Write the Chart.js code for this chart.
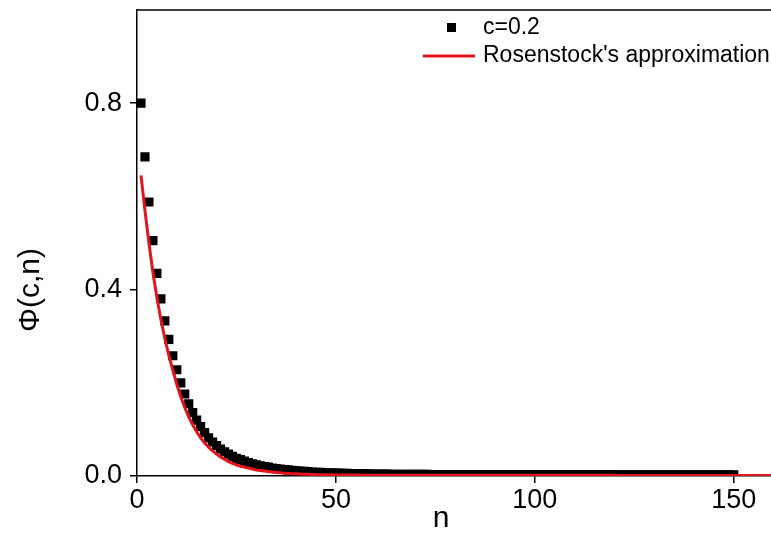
<!DOCTYPE html>
<html>
<head>
<meta charset="utf-8">
<script src="https://cdn.jsdelivr.net/npm/chart.js@4.4.1/dist/chart.umd.min.js"></script>
<style>
  html, body { margin: 0; padding: 0; background: #fff; overflow: hidden; }
  #wrap { width: 780px; height: 533px; }
</style>
</head>
<body>
<div id="wrap"><canvas id="chart" width="780" height="533"></canvas></div>
<script>
// Phi(c,n), c = 0.2, n = 1..150
const phiValues = [
  0.800, 0.685, 0.588, 0.505, 0.435, 0.380, 0.333, 0.293, 0.258, 0.228,
  0.200, 0.176, 0.155, 0.136, 0.120, 0.106, 0.093, 0.082, 0.073, 0.065,
  0.058, 0.052, 0.047, 0.042, 0.038, 0.035, 0.032, 0.029, 0.026, 0.024,
  0.022, 0.020, 0.019, 0.017, 0.016, 0.015, 0.014, 0.013, 0.012, 0.011,
  0.0105, 0.0098, 0.0092, 0.0086, 0.0081, 0.0077, 0.0073, 0.0070, 0.0067, 0.0064,
  0.0061, 0.0058, 0.0055, 0.0053, 0.0051, 0.0049, 0.0047, 0.0045, 0.0043, 0.0042,
  0.0041, 0.0040, 0.0039, 0.0038, 0.0037, 0.0036, 0.0035, 0.0035, 0.0034, 0.0034,
  0.0033, 0.0033, 0.0033, 0.0032, 0.0032, 0.0032, 0.0031, 0.0031, 0.0031, 0.0031,
  0.0030, 0.0030, 0.0030, 0.0030, 0.0030, 0.0030, 0.0030, 0.0030, 0.0030, 0.0030,
  0.0029, 0.0029, 0.0029, 0.0029, 0.0029, 0.0029, 0.0029, 0.0029, 0.0029, 0.0029,
  0.0028, 0.0028, 0.0028, 0.0028, 0.0028, 0.0028, 0.0028, 0.0028, 0.0028, 0.0028,
  0.0028, 0.0028, 0.0028, 0.0028, 0.0028, 0.0028, 0.0028, 0.0028, 0.0028, 0.0028,
  0.0027, 0.0027, 0.0027, 0.0027, 0.0027, 0.0027, 0.0027, 0.0027, 0.0027, 0.0027,
  0.0027, 0.0027, 0.0027, 0.0027, 0.0027, 0.0027, 0.0027, 0.0027, 0.0027, 0.0027,
  0.0026, 0.0026, 0.0026, 0.0026, 0.0026, 0.0026, 0.0026, 0.0026, 0.0026, 0.0026
];

// Rosenstock's approximation, n = 1..160
const rosenValues = [
  0.645, 0.570, 0.500, 0.437, 0.383, 0.336, 0.295, 0.259, 0.227, 0.197,
  0.170, 0.147, 0.127, 0.110, 0.095, 0.082, 0.071, 0.062, 0.054, 0.047,
  0.041, 0.036, 0.031, 0.027, 0.024, 0.021, 0.019, 0.017, 0.015, 0.013,
  0.0118, 0.0106, 0.0095, 0.0085, 0.0076, 0.0068, 0.0061, 0.0055, 0.0050, 0.0046,
  0.0042, 0.0039, 0.0036, 0.0033, 0.0031, 0.0029, 0.0027, 0.0025, 0.0024, 0.0023,
  0.0022, 0.0021, 0.0020, 0.0020, 0.0019, 0.0019, 0.0018, 0.0018, 0.0018, 0.0017,
  0.0017, 0.0017, 0.0017, 0.0016, 0.0016, 0.0016, 0.0016, 0.0016, 0.0016, 0.0016,
  0.0015, 0.0015, 0.0015, 0.0015, 0.0015, 0.0015, 0.0015, 0.0015, 0.0015, 0.0015,
  0.0015, 0.0015, 0.0015, 0.0015, 0.0015, 0.0015, 0.0015, 0.0015, 0.0015, 0.0015,
  0.0014, 0.0014, 0.0014, 0.0014, 0.0014, 0.0014, 0.0014, 0.0014, 0.0014, 0.0014,
  0.0014, 0.0014, 0.0014, 0.0014, 0.0014, 0.0014, 0.0014, 0.0014, 0.0014, 0.0014,
  0.0014, 0.0014, 0.0014, 0.0014, 0.0014, 0.0014, 0.0014, 0.0014, 0.0014, 0.0014,
  0.0013, 0.0013, 0.0013, 0.0013, 0.0013, 0.0013, 0.0013, 0.0013, 0.0013, 0.0013,
  0.0013, 0.0013, 0.0013, 0.0013, 0.0013, 0.0013, 0.0013, 0.0013, 0.0013, 0.0013,
  0.0013, 0.0013, 0.0013, 0.0013, 0.0013, 0.0013, 0.0013, 0.0013, 0.0013, 0.0013,
  0.0013, 0.0013, 0.0013, 0.0013, 0.0013, 0.0013, 0.0013, 0.0013, 0.0013, 0.0013
];

const xTicks = [0, 50, 100, 150];
const yTicks = [0, 0.4, 0.8];
const seriesLabels = ['c=0.2', "Rosenstock's approximation"];
const axisTitles = { x: 'n', y: 'Φ(c,n)' };

const FONT = '"Liberation Sans", Arial, sans-serif';

// frame top line, legend box and axis titles
const decor = {
  id: 'decor',
  afterDraw(chart) {
    const { ctx, chartArea: a } = chart;
    ctx.save();
    ctx.strokeStyle = '#000';
    ctx.lineWidth = 1.5;
    ctx.beginPath();
    ctx.moveTo(a.left, a.top);
    ctx.lineTo(a.right + 10, a.top);
    ctx.stroke();

    // legend
    ctx.fillStyle = '#000';
    ctx.fillRect(447, 23, 9, 9);
    ctx.strokeStyle = '#e3141b';
    ctx.lineWidth = 3;
    ctx.beginPath();
    ctx.moveTo(423, 56);
    ctx.lineTo(475, 56);
    ctx.stroke();
    ctx.fillStyle = '#000';
    ctx.font = '23px ' + FONT;
    ctx.textBaseline = 'middle';
    ctx.textAlign = 'left';
    ctx.fillText(seriesLabels[0], 483, 28);
    ctx.fillText(seriesLabels[1], 483, 56);

    // axis titles
    ctx.font = '30px ' + FONT;
    ctx.textAlign = 'center';
    ctx.fillText(axisTitles.x, 441, 519);
    ctx.translate(31, 290);
    ctx.rotate(-Math.PI / 2);
    ctx.font = '30px ' + FONT;
    ctx.fillText(axisTitles.y, 0, 0);
    ctx.restore();
  }
};

new Chart(document.getElementById('chart'), {
  type: 'scatter',
  data: {
    datasets: [
      {
        label: seriesLabels[1],
        type: 'line',
        data: rosenValues.map((v, i) => ({ x: i + 1, y: v })),
        borderColor: '#e3141b',
        borderWidth: 3,
        pointRadius: 0,
        fill: false,
        order: 1
      },
      {
        label: seriesLabels[0],
        data: phiValues.map((v, i) => ({ x: i + 1, y: v })),
        pointStyle: 'rect',
        pointRadius: 6.5,
        borderWidth: 0,
        backgroundColor: '#000',
        showLine: false,
        order: 2
      }
    ]
  },
  options: {
    responsive: false,
    animation: false,
    layout: { padding: { top: 10, right: 6, left: 0, bottom: 0 } },
    plugins: {
      legend: { display: false },
      tooltip: { enabled: false }
    },
    scales: {
      x: {
        type: 'linear',
        min: 0,
        max: 160,
        afterBuildTicks: s => { s.ticks = xTicks.map(v => ({ value: v })); },
        afterFit: s => { s.height = 57; s.paddingLeft = 0; s.paddingRight = 0; },
        grid: { display: true, drawOnChartArea: false, drawTicks: true, tickLength: 7, color: '#000', lineWidth: 1.5 },
        border: { display: true, color: '#000', width: 1.5 },
        ticks: { color: '#000', padding: 1, font: { family: FONT, size: 27 } }
      },
      y: {
        min: 0,
        max: 1.0,
        afterBuildTicks: s => { s.ticks = yTicks.map(v => ({ value: v })); },
        afterFit: s => { s.width = 137; s.paddingTop = 0; s.paddingBottom = 0; },
        grid: { display: true, drawOnChartArea: false, drawTicks: true, tickLength: 7, color: '#000', lineWidth: 1.5 },
        border: { display: true, color: '#000', width: 1.5 },
        ticks: {
          color: '#000',
          padding: 8,
          font: { family: FONT, size: 27 },
          callback: v => v.toFixed(1)
        }
      }
    }
  },
  plugins: [decor]
});
</script>
</body>
</html>
